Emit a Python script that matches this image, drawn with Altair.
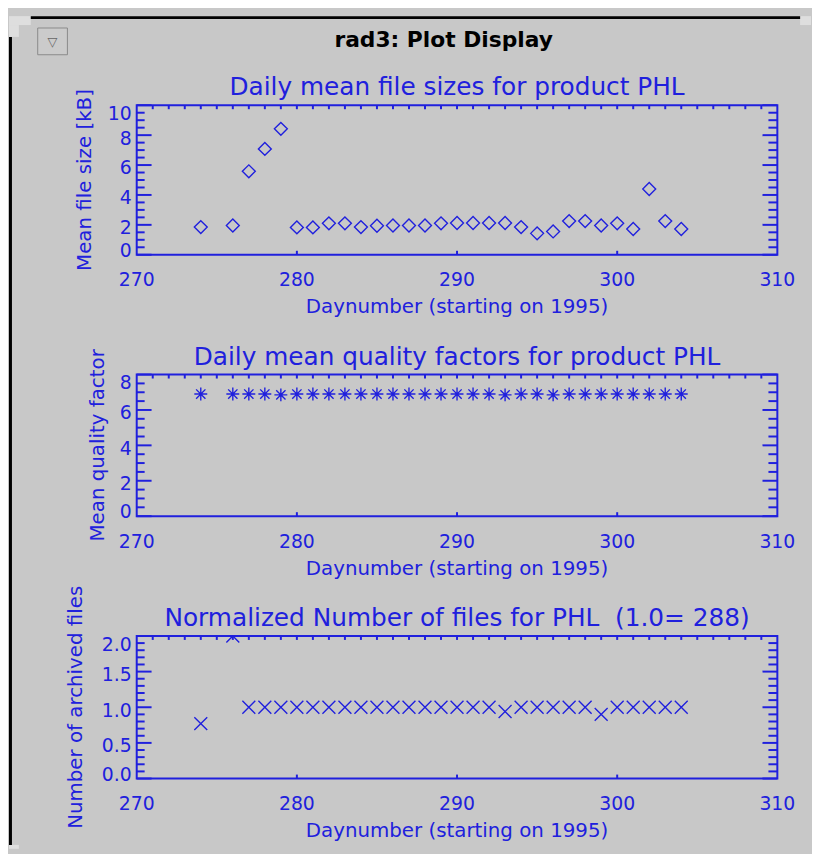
import altair as alt
import pandas as pd

BLUE = "#2020dd"
BG = "#c8c8c8"
FONT = "DejaVu Sans"

# ---------------- data ----------------
days = [274, 276, 277, 278, 279, 280, 281, 282, 283, 284, 285, 286, 287, 288, 289,
        290, 291, 292, 293, 294, 295, 296, 297, 298, 299, 300, 301, 302, 303, 304]

mean_file_size_kb = [1.85, 1.96, 5.58, 7.08, 8.42, 1.83, 1.83, 2.10, 2.10, 1.85,
                     1.94, 1.96, 1.96, 1.96, 2.10, 2.12, 2.12, 2.12, 2.12, 1.85,
                     1.43, 1.56, 2.25, 2.25, 1.96, 2.10, 1.72, 4.40, 2.25, 1.72]

mean_quality = [6.90, 6.90, 6.90, 6.90, 6.85, 6.90, 6.90, 6.90, 6.90, 6.90,
                6.90, 6.90, 6.90, 6.90, 6.90, 6.90, 6.90, 6.90, 6.85, 6.90,
                6.90, 6.85, 6.90, 6.90, 6.90, 6.90, 6.90, 6.90, 6.90, 6.90]

norm_files = [0.77, 2.00, 1.00, 1.00, 1.00, 1.00, 1.00, 1.00, 1.00, 1.00,
              1.00, 1.00, 1.00, 1.00, 1.00, 1.00, 1.00, 1.00, 0.94, 1.00,
              1.00, 1.00, 1.00, 1.00, 0.90, 1.00, 1.00, 1.00, 1.00, 1.00]

# tick labels / tick positions
x_label_values = [270, 280, 290, 300, 310]
x_labels = ["270", "280", "290", "300", "310"]
x_top_ticks = list(range(271, 310))
x_bottom_ticks = [280, 290, 300]

size_major = [0, 2, 4, 6, 8, 10]
size_labels = ["0", "2", "4", "6", "8", "10"]
size_minor = [v / 2 for v in range(0, 21) if v % 4 != 0]
quality_major = [0, 2, 4, 6, 8]
quality_labels = ["0", "2", "4", "6", "8"]
quality_minor = [v / 2 for v in range(0, 17) if v % 4 != 0]
files_major = [0.0, 0.5, 1.0, 1.5, 2.0]
files_labels = ["0.0", "0.5", "1.0", "1.5", "2.0"]
files_minor = [v / 10 for v in range(0, 21) if v % 5 != 0]

titles = ["Daily mean file sizes for product PHL",
          "Daily mean quality factors for product PHL",
          "Normalized Number of files for PHL \u00a0(1.0= 288)"]
y_titles = ["Mean file size [kB]", "Mean quality factor", "Number of archived files"]
x_title = "Daynumber (starting on 1995)"
window_title = "rad3: Plot Display"

# ---------------- layout ----------------
W = 647
H1, H2, H3 = 151, 143, 144
one = pd.DataFrame({"a": [0]})

DIAMOND = "diamond"
ASTERISK = "M-1,0L1,0M0,-1L0,1M-0.72,-0.72L0.72,0.72M-0.72,0.72L0.72,-0.72"
XMARK = "M-1,-1L1,1M-1,1L1,-1"


def panel(values, ydomain, majors, labels, minors, H, title, ytitle, ytitle_x, shape,
          extra=None):
    xs = alt.Scale(domain=[270, 310], nice=False, zero=False)
    ys = alt.Scale(domain=ydomain, nice=False, zero=False)
    df = pd.DataFrame({"day": days, "value": values})

    X = lambda f: alt.X(f"{f}:Q", scale=xs, axis=None)
    Y = lambda f: alt.Y(f"{f}:Q", scale=ys, axis=None)

    pts = alt.Chart(df).mark_point(
        shape=shape, size=170, filled=False, strokeWidth=1.4, color=BLUE,
        opacity=1, clip=True
    ).encode(x=X("day"), y=Y("value"))

    def yrule(vals, x1, x2):
        return alt.Chart(pd.DataFrame({"value": vals})).mark_rule(
            color=BLUE, strokeWidth=2).encode(y=Y("value"), x=alt.value(x1), x2=alt.value(x2))

    def xrule(vals, y1, y2):
        return alt.Chart(pd.DataFrame({"day": vals})).mark_rule(
            color=BLUE, strokeWidth=2).encode(x=X("day"), y=alt.value(y1), y2=alt.value(y2))

    ticks = [
        yrule(majors, 0, 15), yrule(minors, 0, 8),
        yrule(majors, W - 15, W), yrule(minors, W - 9, W),
        xrule(x_top_ticks, 0, 4), xrule(x_bottom_ticks, H - 4, H),
    ]

    txt = dict(font=FONT, color=BLUE)

    # y tick labels (IDL style: end labels pulled inside the frame)
    def ylab(vals, labs, baseline, dy):
        d = pd.DataFrame({"value": vals, "label": labs})
        return alt.Chart(d).mark_text(align="right", baseline=baseline, dy=dy,
                                      fontSize=19, **txt).encode(
            y=Y("value"), x=alt.value(-5), text="label:N")

    ylabels = [
        ylab(majors[:1], labels[:1], "alphabetic", 2),
        ylab(majors[1:-1], labels[1:-1], "middle", 3.5),
        ylab(majors[-1:], labels[-1:], "top", 0),
    ]
    xlab = alt.Chart(pd.DataFrame({"day": x_label_values, "label": x_labels})).mark_text(
        align="center", baseline="top", fontSize=19, **txt).encode(
        x=X("day"), y=alt.value(H + 17), text="label:N")

    xttl = alt.Chart(one).mark_text(text=x_title, align="center", baseline="alphabetic",
                                    fontSize=20, **txt).encode(
        x=alt.value(W / 2), y=alt.value(H + 59))
    yttl = alt.Chart(one).mark_text(text=ytitle, align="center", baseline="middle",
                                    angle=270, fontSize=20, **txt).encode(
        x=alt.value(ytitle_x), y=alt.value(H / 2))
    ttl = alt.Chart(one).mark_text(text=title, align="center", baseline="alphabetic",
                                   fontSize=25, **txt).encode(
        x=alt.value(W / 2), y=alt.value(-10))

    layers = [pts] + ticks + ylabels + [xlab, xttl, yttl, ttl] + (extra or [])
    return alt.layer(*layers).properties(width=W, height=H)


def box(x1, x2, y1, y2, fill, stroke=None):
    kw = dict(fill=fill)
    if stroke:
        kw.update(stroke=stroke, strokeWidth=1)
    else:
        kw.update(strokeWidth=0)
    return alt.Chart(one).mark_rect(**kw).encode(
        x=alt.value(x1), x2=alt.value(x2), y=alt.value(y1), y2=alt.value(y2))


# window decorations (pixel offsets relative to the first plot's corner)
decor = [
    box(-129, -107, -90, -81, "#dedede"),
    box(-129, -119, -81, -69, "#dedede"),
    box(670, 681, -90, -81, "#dedede"),
    box(-129, -119, 747, 751, "#dedede"),
    box(-107, 670, -90, -87, "black"),
    box(-129, -126, -69, 747, "black"),
    box(-100, -70, -78, -51, "#cbcbcb", "#8a8a8a"),
    alt.Chart(one).mark_text(text="\u25bd", font=FONT, fontSize=13, color="#666666",
                             baseline="middle", align="center").encode(
        x=alt.value(-85), y=alt.value(-64)),
    alt.Chart(one).mark_text(text=window_title, font=FONT, fontSize=22, fontWeight="bold",
                             color="black", baseline="alphabetic", align="center").encode(
        x=alt.value(310), y=alt.value(-59)),
]

p1 = panel(mean_file_size_kb, [0, 10], size_major, size_labels, size_minor, H1, titles[0],
           y_titles[0], -52, DIAMOND, extra=decor)
p2 = panel(mean_quality, [0, 8], quality_major, quality_labels, quality_minor, H2, titles[1],
           y_titles[1], -39, ASTERISK)
p3 = panel(norm_files, [0, 2], files_major, files_labels, files_minor, H3, titles[2],
           y_titles[2], -61, XMARK)

chart = alt.vconcat(p1, p2, p3, spacing=121, bounds="flush").properties(
    background=BG,
    padding={"left": 0, "top": 3, "right": 0, "bottom": 0},
).configure_view(
    stroke=BLUE, strokeWidth=2
)

chart.save("out.html", embed_options={"renderer": "svg", "actions": False})
